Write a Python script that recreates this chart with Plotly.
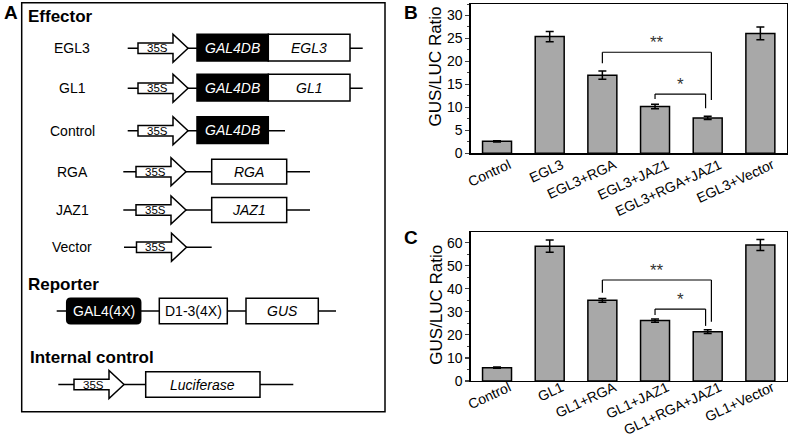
import plotly.graph_objects as go

W, H = 790, 436
FONT = "Liberation Sans, Arial, sans-serif"

# ---------------- data ----------------
b_categories = ["Control", "EGL3", "EGL3+RGA", "EGL3+JAZ1", "EGL3+RGA+JAZ1", "EGL3+Vector"]
b_values = [2.6, 25.4, 17.0, 10.2, 7.7, 26.1]
b_errors = [0.15, 1.1, 0.9, 0.5, 0.35, 1.4]

c_categories = ["Control", "GL1", "GL1+RGA", "GL1+JAZ1", "GL1+RGA+JAZ1", "GL1+Vector"]
c_values = [5.8, 58.5, 35.0, 26.2, 21.4, 59.0]
c_errors = [0.3, 2.7, 0.8, 0.7, 0.8, 2.4]

y_ticks_b = [0, 5, 10, 15, 20, 25, 30]
y_ticks_c = [0, 10, 20, 30, 40, 50, 60]

# significance brackets: (left bar index, right bar index), label, heights
sig_pairs = [(2, 4), (3, 4)]
sig_labels = ["**", "*"]
b_sig_top = [22.0, 12.9]
b_sig_left = [19.6, 11.8]
b_sig_right = [11.6, 9.8]
c_sig_top = [43.8, 31.2]
c_sig_left = [38.3, 28.6]
c_sig_right = [25.7, 23.9]

# schematic (panel A)
effector_names = ["EGL3", "GL1", "Control", "RGA", "JAZ1", "Vector"]
effector_parts = [["GAL4DB", "EGL3"], ["GAL4DB", "GL1"], ["GAL4DB"], ["RGA"], ["JAZ1"], []]
promoter = "35S"
reporter_parts = ["GAL4(4X)", "D1-3(4X)", "GUS"]
internal_parts = ["Luciferase"]

# ---------------- helpers ----------------
def px(x):
    return x / W

def py(y):
    return 1 - y / H

shapes = []
annotations = []

def seg(x0, y0, x1, y1, w=1.4):
    shapes.append(dict(type="line", xref="paper", yref="paper",
                       x0=px(x0), y0=py(y0), x1=px(x1), y1=py(y1),
                       line=dict(color="black", width=w)))

def box(x0, y0, x1, y1, fill, w=1.5):
    shapes.append(dict(type="rect", xref="paper", yref="paper",
                       x0=px(x0), y0=py(y0), x1=px(x1), y1=py(y1),
                       fillcolor=fill, line=dict(color="black", width=w)))

def rbox(x0, y0, x1, y1, r, fill):
    pts = (f"M{px(x0+r)},{py(y0)} L{px(x1-r)},{py(y0)} Q{px(x1)},{py(y0)} {px(x1)},{py(y0+r)} "
           f"L{px(x1)},{py(y1-r)} Q{px(x1)},{py(y1)} {px(x1-r)},{py(y1)} "
           f"L{px(x0+r)},{py(y1)} Q{px(x0)},{py(y1)} {px(x0)},{py(y1-r)} "
           f"L{px(x0)},{py(y0+r)} Q{px(x0)},{py(y0)} {px(x0+r)},{py(y0)} Z")
    shapes.append(dict(type="path", xref="paper", yref="paper", path=pts,
                       fillcolor=fill, line=dict(color="black", width=1.5)))

def txt(x, y, s, size, color="black", xanchor="center", angle=0):
    annotations.append(dict(x=px(x), y=py(y), xref="paper", yref="paper", text=s,
                            showarrow=False, xanchor=xanchor, yanchor="middle",
                            textangle=angle,
                            font=dict(family=FONT, size=size, color=color)))

def arrow(xs, cy):
    xb, xt, hb, hh = xs + 35, xs + 50, 5.3, 14
    pts = [(xs, cy - hb), (xb, cy - hb), (xb, cy - hh), (xt, cy), (xb, cy + hh),
           (xb, cy + hb), (xs, cy + hb)]
    path = "M" + " L".join(f"{px(a)},{py(b)}" for a, b in pts) + " Z"
    shapes.append(dict(type="path", xref="paper", yref="paper", path=path,
                       fillcolor="white", line=dict(color="black", width=1.5)))
    txt(xs + 19, cy, promoter, 11.5)
    return xt

# ---------------- panel A ----------------
box(21.7, 2.7, 385, 411.7, "rgba(0,0,0,0)", w=1.5)
txt(2, 12, "<b>A</b>", 19, xanchor="left")
txt(26, 16, "<b>Effector</b>", 17, xanchor="left")

row_y = [48.3, 88.3, 130.7, 171.7, 210, 247.3]
for name, parts, cy in zip(effector_names, effector_parts, row_y):
    txt(72, cy, name, 14)
    if parts and parts[0] == "GAL4DB":
        tail = 362.7 if len(parts) > 1 else 285
        seg(127.7, cy, tail, cy)
        arrow(138, cy)
        x0 = 197
        box(x0, cy - 14, x0 + 71.3, cy + 12.7, "black")
        txt(x0 + 35.6, cy - 0.7, "<i>GAL4DB</i>", 14, color="white")
        if len(parts) > 1:
            box(x0 + 71.3, cy - 14, 350, cy + 12.7, "white")
            txt((x0 + 71.3 + 350) / 2, cy - 0.7, f"<i>{parts[1]}</i>", 14)
    elif parts:
        seg(123.3, cy, 310, cy)
        arrow(136, cy)
        box(211.7, cy - 12.4, 286.7, cy + 12.4, "white")
        txt((211.7 + 286.7) / 2, cy, f"<i>{parts[0]}</i>", 14)
    else:
        seg(124, cy, 211.7, cy)
        arrow(136.5, cy)

txt(26, 284, "<b>Reporter</b>", 17, xanchor="left")
ry = 311
seg(56.7, ry, 336, ry)
rbox(66.7, ry - 12.8, 140.7, ry + 12.8, 4, "black")
txt((66.7 + 140.7) / 2, ry, reporter_parts[0], 14, color="white")
box(159.3, ry - 12.8, 227.3, ry + 12.8, "white")
txt((159.3 + 227.3) / 2, ry, reporter_parts[1], 14)
box(246, ry - 12.8, 318.3, ry + 12.8, "white")
txt((246 + 318.3) / 2, ry, f"<i>{reporter_parts[2]}</i>", 14)

txt(28, 357.3, "<b>Internal control</b>", 17, xanchor="left")
iy = 384.5
seg(58.3, iy, 293.3, iy)
arrow(74, iy)
box(145.7, iy - 12.8, 260, iy + 12.8, "white")
txt((145.7 + 260) / 2, iy, f"<i>{internal_parts[0]}</i>", 14)

# ---------------- panels B and C ----------------
fig = go.Figure()
bar_color = "#a8a8a8"
for cats, vals, errs, xa, ya in [(b_categories, b_values, b_errors, "x", "y"),
                                 (c_categories, c_values, c_errors, "x2", "y2")]:
    fig.add_trace(go.Bar(
        x=cats, y=vals, xaxis=xa, yaxis=ya, width=0.55, showlegend=False,
        hoverinfo="skip",
        marker=dict(color=bar_color, line=dict(color="black", width=1.5)),
        error_y=dict(type="data", array=errs, color="black", thickness=1.5, width=4),
    ))

right_off = [0.07, -0.04]
for xa, ya, tops, lefts, rights in [("x", "y", b_sig_top, b_sig_left, b_sig_right),
                                    ("x2", "y2", c_sig_top, c_sig_left, c_sig_right)]:
    for (i0, i1), lab, t, l, r, off in zip(sig_pairs, sig_labels, tops, lefts, rights, right_off):
        x1 = i1 + off
        for (a, b, c, d) in [(i0, l, i0, t), (i0, t, x1, t), (x1, t, x1, r)]:
            shapes.append(dict(type="line", xref=xa, yref=ya, x0=a, y0=b, x1=c, y1=d,
                               line=dict(color="black", width=1.2)))
        annotations.append(dict(x=(i0 + x1) / 2, y=t, xref=xa, yref=ya, text=lab,
                                showarrow=False, yanchor="bottom", yshift=-2,
                                font=dict(family=FONT, size=17, color="#333333")))

txt(402, 12, "<b>B</b>", 19, xanchor="left")
txt(402, 238, "<b>C</b>", 19, xanchor="left")
txt(435.7, 66.7, "GUS/LUC Ratio", 17, angle=-90)
txt(435.7, 305, "GUS/LUC Ratio", 17, angle=-90)

axis_common = dict(showline=True, linecolor="black", linewidth=1.4, mirror=True,
                   showgrid=False, zeroline=False, automargin=False, fixedrange=True)
xdom = [470.7 / W, 786.7 / W]
fig.update_layout(
    template="none",
    width=W, height=H, margin=dict(l=0, r=0, t=0, b=0, autoexpand=False),
    paper_bgcolor="white", plot_bgcolor="white",
    font=dict(family=FONT, size=14, color="black"),
    xaxis=dict(domain=xdom, anchor="y", range=[-0.5, 5.5], ticks="", tickangle=-25,
               ticklabelshift=12, ticklabelstandoff=-3,
               tickfont=dict(size=14), **axis_common),
    yaxis=dict(domain=[py(153.3), py(4)], anchor="x", range=[0, 32.5],
               tickvals=y_ticks_b, ticks="outside", ticklen=4, tickwidth=1.2,
               minor=dict(dtick=2.5, ticks="outside", ticklen=2.5, tickwidth=1),
               tickfont=dict(size=14), **axis_common),
    xaxis2=dict(domain=xdom, anchor="y2", range=[-0.5, 5.5], ticks="", tickangle=-25,
                ticklabelshift=12, ticklabelstandoff=-8,
                tickfont=dict(size=14), **axis_common),
    yaxis2=dict(domain=[py(381), py(232.3)], anchor="x2", range=[0, 64.5],
                tickvals=y_ticks_c, ticks="outside", ticklen=4, tickwidth=1.2,
                minor=dict(dtick=5, ticks="outside", ticklen=2.5, tickwidth=1),
                tickfont=dict(size=14), **axis_common),
    shapes=shapes, annotations=annotations,
)

fig.write_html("out.html", config={"displayModeBar": False, "staticPlot": True},
               post_script="document.body.style.margin='0';document.body.style.overflow='hidden';")
